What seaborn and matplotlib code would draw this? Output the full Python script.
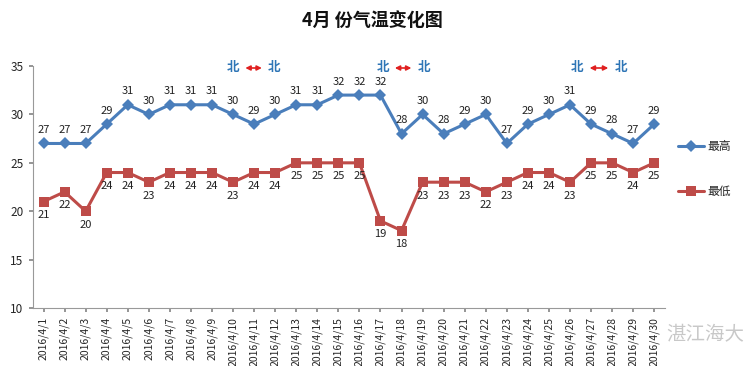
import matplotlib
matplotlib.use("Agg")
import matplotlib.pyplot as plt
import seaborn as sns
import pandas as pd
import numpy as np

dates = [f"2016/4/{d}" for d in range(1, 31)]
high = [27, 27, 27, 29, 31, 30, 31, 31, 31, 30, 29, 30, 31, 31, 32, 32, 32, 28, 30, 28,
        29, 30, 27, 29, 30, 31, 29, 28, 27, 29]
low = [21, 22, 20, 24, 24, 23, 24, 24, 24, 23, 24, 24, 25, 25, 25, 25, 19, 18, 23, 23,
       23, 22, 23, 24, 24, 23, 25, 25, 24, 25]
series_names = ["最高", "最低"]
north_pairs = [(9.0, 10.95), (16.1, 18.05), (25.35, 27.4)]

sns.set_theme(style="white")
plt.rcParams['font.family'] = ['Noto Sans CJK SC', 'DejaVu Sans']

idx = np.arange(len(dates))
df = pd.DataFrame({
    "x": np.concatenate([idx, idx]),
    "v": high + low,
    "s": [series_names[0]] * len(high) + [series_names[1]] * len(low),
})

fig = plt.figure(figsize=(7.45, 3.66), dpi=100)
ax = fig.add_axes([0.0443, 0.1585, 0.848, 0.661])

blue = "#4A7EBB"
red = "#BE4B48"
sns.lineplot(data=df, x="x", y="v", hue="s", style="s",
             palette={series_names[0]: blue, series_names[1]: red},
             markers={series_names[0]: "D", series_names[1]: "s"},
             dashes=False, linewidth=2.2, markersize=6.5, markeredgewidth=0,
             ax=ax, legend=True)

for i, (h, l) in enumerate(zip(high, low)):
    ax.annotate(str(h), (i, h), xytext=(0, 6), textcoords="offset points",
                ha="center", va="bottom", fontsize=8, color="#222222")
    ax.annotate(str(l), (i, l), xytext=(0, -6), textcoords="offset points",
                ha="center", va="top", fontsize=8, color="#222222")

for a, b in north_pairs:
    y = 34.8
    ax.text(a, y, "北", ha="center", va="center", fontsize=9, color="#2E75B6",
            fontweight="bold")
    ax.text(b, y, "北", ha="center", va="center", fontsize=9, color="#2E75B6",
            fontweight="bold")
    ax.annotate("", xy=(a + 0.45, y), xytext=(b - 0.45, y),
                arrowprops=dict(arrowstyle="<|-|>", color="#E02020", lw=1.2,
                                mutation_scale=7))

ax.set_xlim(-0.5, len(dates) - 0.5)
ax.set_ylim(10, 35)
ax.set_yticks(range(10, 36, 5))
ax.set_xticks(idx)
ax.set_xticklabels(dates, rotation=90, fontsize=7.5)
ax.tick_params(axis="y", labelsize=8.5, length=3, color="#888888", left=True, pad=4)
ax.tick_params(axis="x", length=3, color="#888888", bottom=True)
ax.set_xlabel("")
ax.set_ylabel("")
for s in ["top", "right"]:
    ax.spines[s].set_visible(False)
for s in ["left", "bottom"]:
    ax.spines[s].set_color("#999999")
    ax.spines[s].set_linewidth(0.8)
ax.grid(False)

leg = ax.legend(loc="center left", bbox_to_anchor=(1.01, 0.575), frameon=False,
                fontsize=8.5, handlelength=2.2, handletextpad=0.3,
                labelspacing=2.7, borderaxespad=0.2)

fig.text(0.5, 0.945, "4月 份气温变化图", ha="center", va="center",
         fontsize=13, fontweight="bold", color="#111111")
fig.text(0.947, 0.085, "湛江海大", ha="center", va="center", fontsize=14,
         color="#BBBBBB", alpha=0.8)

fig.savefig("out.png", dpi=100)
